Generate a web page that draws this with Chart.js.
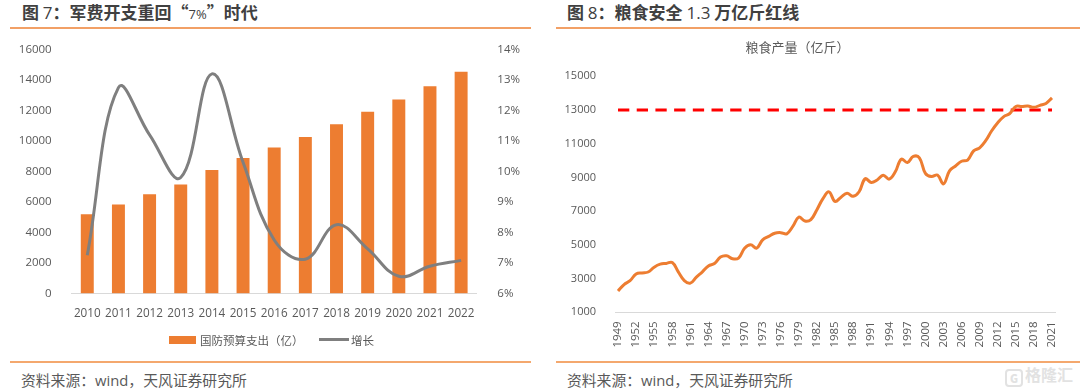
<!DOCTYPE html>
<html>
<head>
<meta charset="utf-8">
<script src="https://cdn.jsdelivr.net/npm/chart.js@4/dist/chart.umd.min.js"></script>
<style>
    html, body { margin: 0; padding: 0; background: #fff; }
    body { position: relative; width: 1080px; height: 392px; overflow: hidden; font-family: "Noto Sans CJK SC", sans-serif; color: #595959; }
    .title { position: absolute; top: 0; font-size: 17px; line-height: 24px; font-weight: 700; color: #404040; white-space: nowrap; }
    .title small { font-size: 13px; font-weight: 400; font-family: "Open Sans", sans-serif; }
    .title span { font-weight: 400; font-family: "Open Sans", sans-serif; }
    .rule-top { position: absolute; top: 27px; height: 2px; background: #F2A066; }
    .rule-bottom { position: absolute; top: 361px; height: 2px; background: #F4A86E; }
    .source { position: absolute; top: 369px; font-size: 14.8px; line-height: 22px; white-space: nowrap; }
    .source i { font-style: normal; font-family: "Open Sans", sans-serif; }
    canvas { position: absolute; top: 30px; }
    .legend { position: absolute; top: 332px; left: 0; height: 16px; font-size: 11.5px; line-height: 16px; }
    .legend b { position: absolute; display: block; }
    .legend span { position: absolute; top: 0; white-space: nowrap; }
    .mark { position: absolute; left: 1005px; top: 363px; font-size: 16px; line-height: 22px; font-weight: 700; color: #e2e2e2; white-space: nowrap; }
    .mark b { display: inline-block; width: 18px; height: 18px; border: 2px solid #e2e2e2; border-radius: 4px; box-sizing: border-box; font-size: 11px; line-height: 14px; text-align: center; vertical-align: -2px; margin-right: 2px; }
</style>
</head>
<body>
<div class="title" style="left:22px">图 <span>7</span>：军费开支重回“<small>7%</small>”时代</div>
<div class="rule-top" style="left:10px;width:521px"></div>
<canvas id="budget-chart" width="540" height="330" style="left:0"></canvas>
<div class="legend">
    <b style="left:169px;top:4px;width:27px;height:8px;background:#ED7D31"></b>
    <span style="left:200px">国防预算支出（亿）</span>
    <b style="left:319px;top:6px;width:30px;height:3px;background:#7F7F7F"></b>
    <span style="left:351px">增长</span>
</div>
<div class="rule-bottom" style="left:10px;width:521px"></div>
<div class="source" style="left:21px">资料来源：<i>wind</i>，天风证券研究所</div>

<div class="title" style="left:567px">图 <span>8</span>：粮食安全 <span>1.3</span> 万亿斤红线</div>
<div class="rule-top" style="left:556px;width:524px"></div>
<canvas id="grain-chart" width="540" height="330" style="left:540px"></canvas>
<div class="rule-bottom" style="left:556px;width:524px"></div>
<div class="source" style="left:567px">资料来源：<i>wind</i>，天风证券研究所</div>
<div class="mark"><b>G</b>格隆汇</div>

<script>
const budgetYears = ['2010', '2011', '2012', '2013', '2014', '2015', '2016', '2017', '2018', '2019', '2020', '2021', '2022'];
const budgetValues = [5160, 5810, 6480, 7120, 8070, 8850, 9540, 10240, 11080, 11890, 12690, 13560, 14510];
const growthValues = [7.25, 12.75, 11.2, 9.8, 13.2, 10.3, 7.75, 7.12, 8.25, 7.46, 6.56, 6.89, 7.08];

const grainYears = [];
for (let y = 1949; y <= 2021; y++) grainYears.push(String(y));
const grainValues = [
    2264, 2643, 2874, 3278, 3337, 3390, 3679, 3855, 3901, 3953,
    3394, 2877, 2730, 3088, 3400, 3750, 3891, 4280, 4356, 4181,
    4219, 4799, 5003, 4810, 5299, 5505, 5690, 5726, 5655, 6095,
    6642, 6411, 6500, 7090, 7746, 8146, 7582, 7830, 8060, 7882,
    8151, 8925, 8706, 8853, 9130, 8902, 9332, 10090, 9883, 10246,
    10168, 9244, 9053, 9141, 8614, 9389, 9680, 9961, 10032, 10574,
    10760, 11180, 11770, 12245, 12610, 12793, 13212, 13209, 13232, 13158,
    13277, 13390, 13720
];
const redLineValues = grainYears.map(() => 13000);

const tickColor = '#595959';
const axisColor = '#D9D9D9';
const plainNumber = (v) => String(v);

new Chart(document.getElementById('budget-chart'), {
    type: 'bar',
    data: {
        labels: budgetYears,
        datasets: [
            {
                type: 'line',
                label: '增长',
                data: growthValues,
                yAxisID: 'y1',
                borderColor: '#7F7F7F',
                borderWidth: 3,
                pointRadius: 0,
                tension: 0.4,
                order: 0
            },
            {
                label: '国防预算支出（亿）',
                data: budgetValues,
                yAxisID: 'y',
                backgroundColor: '#ED7D31',
                barThickness: 12.3,
                order: 1
            }
        ]
    },
    options: {
        responsive: false,
        animation: false,
        layout: { padding: { top: 17.5 } },
        plugins: { legend: { display: false }, tooltip: { enabled: false } },
        scales: {
            x: {
                grid: { display: false },
                border: { color: axisColor },
                ticks: { color: tickColor, font: { family: '"Open Sans", sans-serif', size: 11.7 }, padding: 5, maxRotation: 0, autoSkip: false },
                afterFit: (scale) => { scale.height = 66.7; }
            },
            y: {
                min: 0,
                max: 16000,
                grid: { display: false },
                border: { display: false },
                ticks: { color: tickColor, font: { family: '"Open Sans", sans-serif', size: 11.5 }, padding: 12, stepSize: 2000, callback: plainNumber },
                afterFit: (scale) => { scale.width = 71.7; }
            },
            y1: {
                position: 'right',
                min: 6,
                max: 14,
                grid: { display: false },
                border: { display: false },
                ticks: { color: tickColor, font: { family: '"Open Sans", sans-serif', size: 11.5 }, padding: 12.6, stepSize: 1, callback: (v) => v + '%' },
                afterFit: (scale) => { scale.width = 63.3; }
            }
        }
    }
});

new Chart(document.getElementById('grain-chart'), {
    type: 'line',
    data: {
        labels: grainYears,
        datasets: [
            {
                label: '粮食产量（亿斤）',
                data: grainValues,
                borderColor: '#ED7D31',
                borderWidth: 3,
                pointRadius: 0,
                tension: 0.4
            },
            {
                label: '红线',
                data: redLineValues,
                borderColor: '#FF0000',
                borderWidth: 3,
                borderDash: [11.3, 7.4],
                pointRadius: 0
            }
        ]
    },
    options: {
        responsive: false,
        animation: false,
        plugins: {
            legend: { display: false },
            tooltip: { enabled: false },
            title: {
                display: true,
                text: '粮食产量（亿斤）',
                color: '#595959',
                font: { family: '"Noto Sans CJK SC", sans-serif', size: 13, weight: 'normal' },
                padding: { top: 9.2, bottom: 21.5 }
            }
        },
        layout: { padding: { right: 25 } },
        scales: {
            x: {
                offset: true,
                grid: { display: false },
                border: { color: axisColor },
                ticks: {
                    color: tickColor,
                    font: { family: '"Open Sans", sans-serif', size: 11.5 },
                    padding: 1,
                    minRotation: 90,
                    maxRotation: 90,
                    autoSkip: false,
                    // every third year only
                    callback: function (value, index) { return index % 3 === 0 ? this.getLabelForValue(value) : ''; }
                },
                afterFit: (scale) => { scale.height = 47.7; }
            },
            y: {
                min: 1000,
                max: 15000,
                grid: { display: false },
                border: { display: false },
                ticks: { color: tickColor, font: { family: '"Open Sans", sans-serif', size: 11 }, padding: 11, stepSize: 2000, callback: plainNumber },
                afterFit: (scale) => { scale.width = 75; }
            }
        }
    }
});
</script>
</body>
</html>
